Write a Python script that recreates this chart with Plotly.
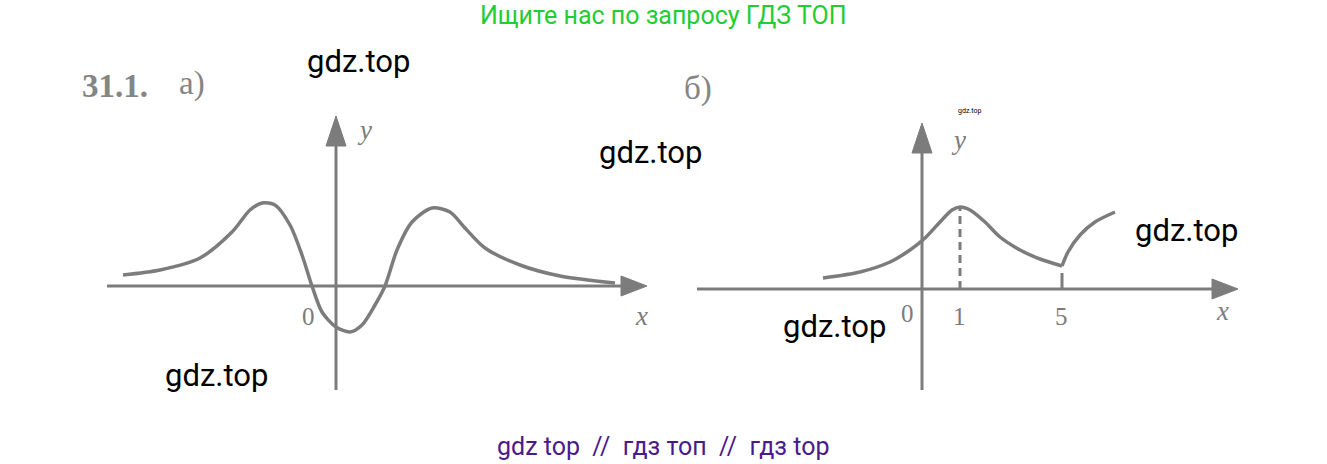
import plotly.graph_objects as go

W, H = 1327, 464

# Panel a) curve, offsets (px) from the origin, y up
a_x = [-213, -176, -136, -104, -86, -74, -61, -46, -34, -24, -14, 0, 14, 26, 39, 49, 61, 76, 96, 114, 129, 149, 184, 224, 279]
a_y = [11, 16, 28, 54, 76, 83, 81, 61, 31, 0, -26, -41, -46, -39, -19, 0, 36, 64, 78, 74, 58, 38, 21, 10, 3]

# Panel b) curve, offsets (px) from the origin, y up
b_x1 = [-99, -62, -32, -12, 3, 18, 30, 38, 48, 63, 78, 98, 118, 140]
b_y1 = [11, 17, 27, 39, 51, 67, 79, 82, 79, 67, 52, 39, 30, 23]
b_x2 = [140, 146, 158, 173, 193]
b_y2 = [23, 37, 54, 67, 77]

# axis geometry (px offsets)
a_xaxis = [-229, 285]
a_yaxis = [-104, 140]
b_xaxis = [-225, 290]
b_yaxis = [-101, 136]
b_marks = [38, 140]
b_mark_labels = ["1", "5"]

GRAY = "#7c7c7c"

fig = go.Figure()

def line(x, y, ax, width=3.5, dash=None, smooth=0.8):
    fig.add_trace(go.Scatter(x=x, y=y, mode="lines", xaxis=ax[0], yaxis=ax[1],
                             line=dict(color=GRAY, width=width, dash=dash, shape="spline", smoothing=smooth),
                             hoverinfo="skip", showlegend=False))

def tri(pts, ax):
    xs = [p[0] for p in pts] + [pts[0][0]]
    ys = [p[1] for p in pts] + [pts[0][1]]
    fig.add_trace(go.Scatter(x=xs, y=ys, mode="lines", fill="toself", fillcolor=GRAY,
                             xaxis=ax[0], yaxis=ax[1], line=dict(color=GRAY, width=1),
                             hoverinfo="skip", showlegend=False))

A = ("x", "y")
B = ("x2", "y2")

# panel a axes
line(a_xaxis, [0, 0], A, 3)
line([0, 0], a_yaxis, A, 3)
tri([(a_xaxis[1], 10), (a_xaxis[1], -10), (a_xaxis[1] + 26, 0)], A)
tri([(-10, a_yaxis[1]), (10, a_yaxis[1]), (0, a_yaxis[1] + 30)], A)
line(a_x, a_y, A, 3.5)

# panel b axes
line(b_xaxis, [0, 0], B, 3)
line([0, 0], b_yaxis, B, 3)
tri([(b_xaxis[1], 10), (b_xaxis[1], -10), (b_xaxis[1] + 26, 0)], B)
tri([(-10, b_yaxis[1]), (10, b_yaxis[1]), (0, b_yaxis[1] + 30)], B)
line(b_x1, b_y1, B, 3.5)
line(b_x2, b_y2, B, 3.5)
line([b_marks[0], b_marks[0]], [0, 82], B, 3, dash="8px,5px")
line([b_marks[1], b_marks[1]], [0, 16], B, 3)

oa = (336, 286)
ob = (922, 289)
fig.update_layout(
    width=W, height=H, margin=dict(l=0, r=0, t=0, b=0),
    paper_bgcolor="white", plot_bgcolor="rgba(0,0,0,0)",
    xaxis=dict(domain=[0, 1], range=[-oa[0], W - oa[0]], visible=False, fixedrange=True),
    yaxis=dict(domain=[0, 1], range=[-(H - oa[1]), oa[1]], visible=False, fixedrange=True),
    xaxis2=dict(domain=[0, 1], range=[-ob[0], W - ob[0]], visible=False, overlaying="x", fixedrange=True),
    yaxis2=dict(domain=[0, 1], range=[-(H - ob[1]), ob[1]], visible=False, overlaying="y", fixedrange=True),
)

def txt(s, px, py, size, color="black", family="Roboto", anchor="center"):
    fig.add_annotation(text=s, x=px / W, y=1 - py / H, xref="paper", yref="paper",
                       showarrow=False, xanchor=anchor, yanchor="middle",
                       font=dict(size=size, color=color, family=family))

SERIF = "Liberation Serif"
txt("<b>31.1.</b>", 115, 86, 33, "#858585", SERIF)
txt("а)", 192, 84, 33, "#858585", SERIF)
txt("б)", 698, 88, 33, "#858585", SERIF)
txt("<i>y</i>", 364, 130, 27, GRAY, SERIF)
txt("<i>x</i>", 641, 316, 27, GRAY, SERIF)
txt("0", 308, 316, 25, GRAY, SERIF)
txt("<i>y</i>", 958, 140, 27, GRAY, SERIF)
txt("<i>x</i>", 1222, 311, 27, GRAY, SERIF)
txt("0", 907, 313, 25, GRAY, SERIF)
for xm, lab in zip(b_marks, b_mark_labels):
    txt(lab, ob[0] + xm - 1, 316, 25, GRAY, SERIF)

txt("Ищите нас по запросу ГДЗ ТОП", 663, 16, 25, "#22cc33")
txt("gdz top  //  гдз топ  //  гдз top", 663, 446, 25, "#4a1a8c")
for (px, py) in [(358, 62), (650, 153), (216, 375), (834, 326), (1186, 230)]:
    txt("gdz.top", px, py, 31)
txt("gdz.top", 969, 111, 7)

fig.write_html("out.html", config={"displayModeBar": False},
               post_script="document.body.style.margin='0';document.body.style.overflow='hidden';")
